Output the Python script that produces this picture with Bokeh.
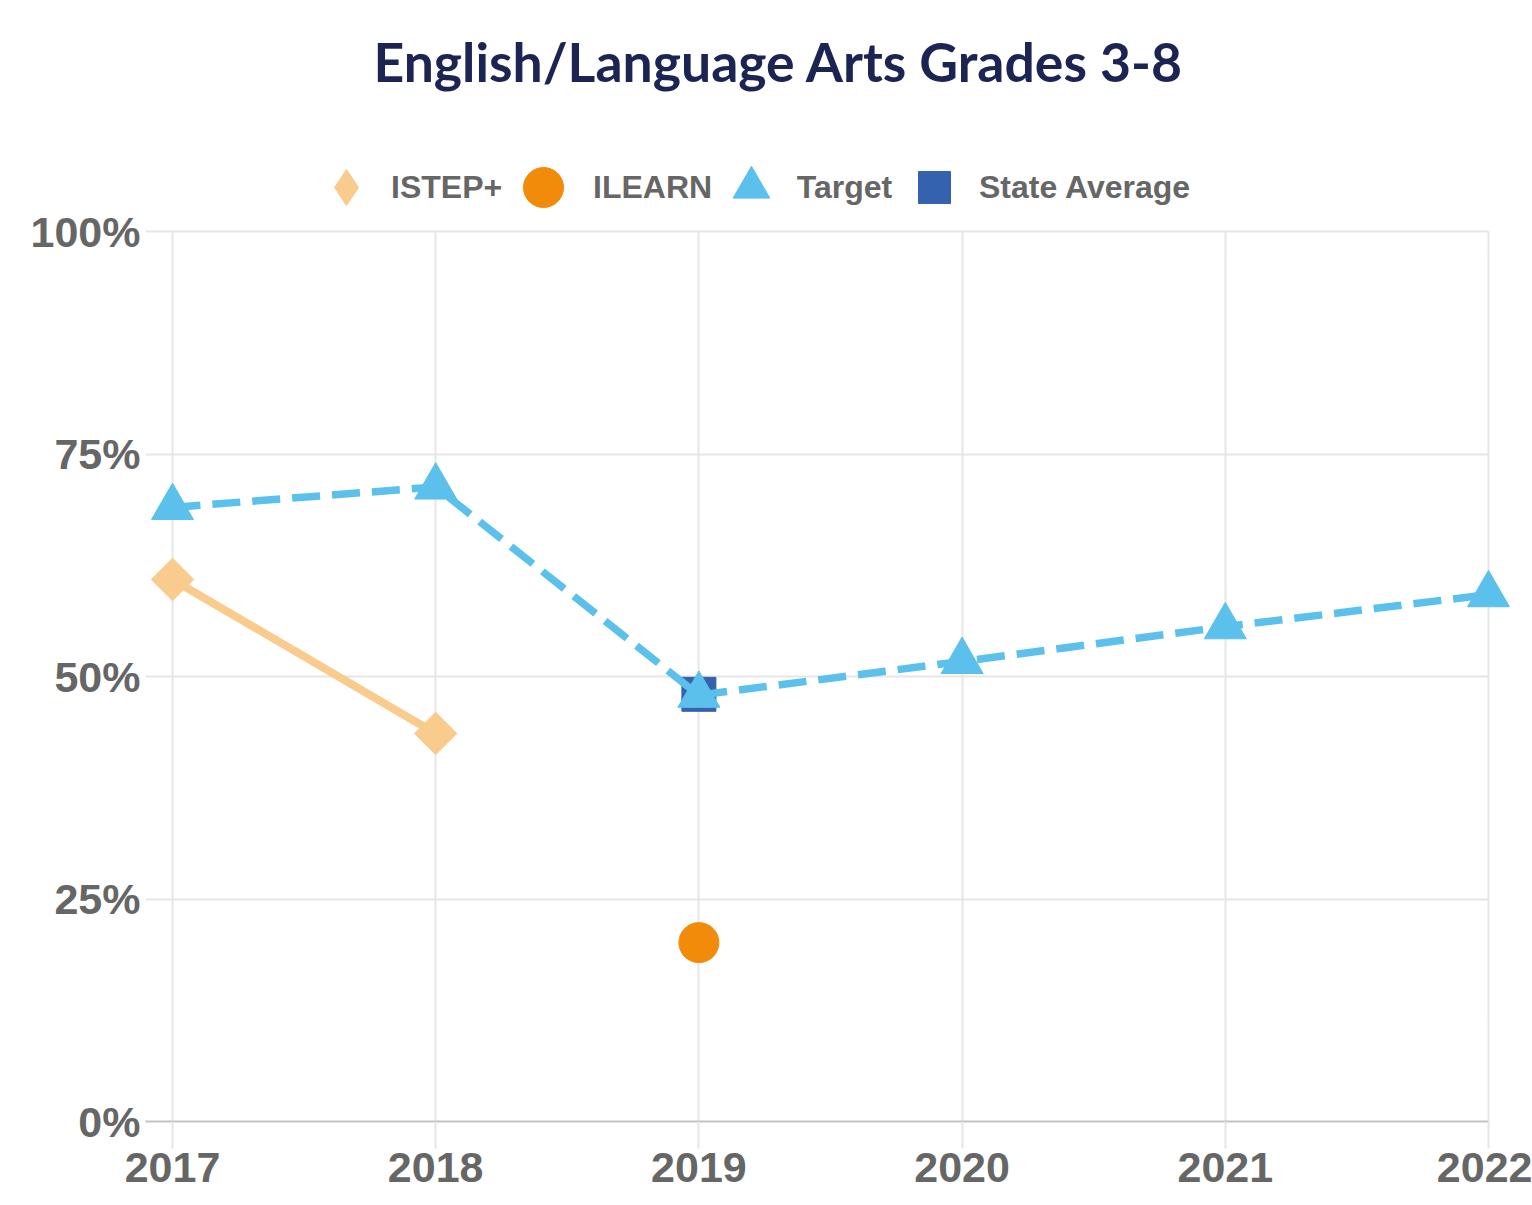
import math
from bokeh.plotting import figure
from bokeh.models import (Range1d, FixedTicker, Legend, LegendItem, Title)
from bokeh.embed import file_html
from bokeh.resources import INLINE

# ---- data ----
years = [2017, 2018, 2019, 2020, 2021, 2022]
istep_years = [2017, 2018]
istep = [60.9, 43.6]
ilearn_years = [2019]
ilearn = [20.1]
target_years = [2017, 2018, 2019, 2020, 2021, 2022]
target = [69.0, 71.3, 47.9, 51.7, 55.6, 59.2]
state_years = [2019]
state_avg = [48.0]
y_ticks = [0, 25, 50, 75, 100]
y_tick_labels = ["0%", "25%", "50%", "75%", "100%"]
x_tick_labels = ["2017", "2018", "2019", "2020", "2021", "2022"]

# colours
C_ISTEP = "#f9cb8d"
C_ILEARN = "#f28b0a"
C_TARGET = "#5bc0eb"
C_STATE = "#3462ae"
GRID = "#e6e6e6"
TXT = "#666666"

W, H = 1532, 1205
left_px = 145
top_px = 118          # frame top (legend lives inside the frame, above 100%)
y100_px = 231         # pixel row of the 100% line
bottom_px = 84
px_per_year = 263.2
x_start = years[0] - 27 / px_per_year
x_end = x_start + (W - left_px) / px_per_year
px_per_pct = (H - bottom_px - y100_px) / 100.0
y_top = 100 + (y100_px - top_px) / px_per_pct

p = figure(width=W, height=H, output_backend="svg", toolbar_location=None,
           x_range=Range1d(x_start, x_end), y_range=Range1d(0, y_top),
           min_border_left=left_px, min_border_right=0, min_border_top=top_px,
           min_border_bottom=bottom_px)
p.outline_line_color = None
p.background_fill_color = "white"
p.border_fill_color = "white"

# title
p.title = Title(text="English/Language Arts Grades 3-8", align="left", offset=228,
                text_font="Lato", text_font_style="bold", text_font_size="53.5px",
                text_color="#1b2452", standoff=52)

# axes
p.xaxis.ticker = FixedTicker(ticks=years)
p.xaxis.major_label_overrides = {y: s for y, s in zip(years, x_tick_labels)}
p.xaxis.bounds = (x_start, years[-1])
p.xaxis.axis_line_color = "#c4c4c4"
p.xaxis.axis_line_width = 2
p.xaxis.major_tick_out = 27
p.xaxis.major_tick_in = 0
p.xaxis.major_tick_line_color = GRID
p.xaxis.major_tick_line_width = 2
p.xaxis.minor_tick_line_color = None
p.xaxis.major_label_standoff = 4
p.xaxis.major_label_text_font = "Liberation Sans"
p.xaxis.major_label_text_font_style = "bold"
p.xaxis.major_label_text_font_size = "43px"
p.xaxis.major_label_text_color = TXT

p.yaxis.ticker = FixedTicker(ticks=y_ticks)
p.yaxis.major_label_overrides = {t: s for t, s in zip(y_ticks, y_tick_labels)}
p.yaxis.axis_line_color = None
p.yaxis.major_tick_line_color = None
p.yaxis.minor_tick_line_color = None
p.yaxis.major_tick_out = 0
p.yaxis.major_tick_in = 0
p.yaxis.major_label_standoff = 5
p.yaxis.major_label_text_font = "Liberation Sans"
p.yaxis.major_label_text_font_style = "bold"
p.yaxis.major_label_text_font_size = "43px"
p.yaxis.major_label_text_color = TXT

# grids
p.xgrid.grid_line_color = GRID
p.xgrid.grid_line_width = 2
p.xgrid.ticker = FixedTicker(ticks=years)
p.ygrid.ticker = FixedTicker(ticks=y_ticks[1:])
p.ygrid.grid_line_color = GRID
p.ygrid.grid_line_width = 2
try:
    p.ygrid.cross_bounds = (x_start, years[-1])
    p.xgrid.cross_bounds = (y_ticks[0], y_ticks[-1])
except Exception:
    p.ygrid.visible = False
    p.xgrid.visible = False
    p.segment(x0=[x_start] * 4, x1=[years[-1]] * 4, y0=y_ticks[1:], y1=y_ticks[1:],
              line_color=GRID, line_width=2)
    p.segment(x0=years, x1=years, y0=[0] * len(years), y1=[100] * len(years),
              line_color=GRID, line_width=2)

# series
r_istep_l = p.line(istep_years, istep, line_color=C_ISTEP, line_width=8)
# diamond key glyph for the legend (sits fully under the rotated-square markers)
r_istep_key = p.scatter(istep_years, istep, marker="diamond", size=28,
                        fill_color=C_ISTEP, line_color=C_ISTEP)
r_istep = p.scatter(istep_years, istep, marker="square", angle=45, angle_units="deg",
                    size=30, fill_color=C_ISTEP, line_color=C_ISTEP)
r_ilearn = p.scatter(ilearn_years, ilearn, marker="circle", size=40,
                     fill_color=C_ILEARN, line_color=C_ILEARN)
r_state = p.scatter(state_years, state_avg, marker="square", size=34,
                    fill_color=C_STATE, line_color=C_STATE)
r_target_l = p.line(target_years, target, line_color=C_TARGET, line_width=7.5,
                    line_dash="28 12")
r_target = p.scatter(target_years, target, marker="triangle", size=42,
                     fill_color=C_TARGET, line_color=C_TARGET)

# legend: one entry per key so each marker keeps its own size
legend_y = 187
entries = [
    # label, renderer, key centre x, key size, label start x
    ("ISTEP+", r_istep_key, 346, 36, 390),
    ("ILEARN", r_ilearn, 543, 40, 593),
    ("Target", r_target, 751, 37, 796),
    ("State Average", r_state, 934, 32, 979),
]
for label, rend, cx, ksize, lx in entries:
    g = ksize / 0.4
    lg = Legend(items=[LegendItem(label=label, renderers=[rend])],
                orientation="horizontal",
                location=(cx - g / 2 - left_px, (H - bottom_px) - (legend_y + g / 2)),
                glyph_width=int(round(g)), glyph_height=int(round(g)),
                label_standoff=max(0, int(round(lx - (cx + g / 2)))), spacing=0,
                padding=0, margin=0, border_line_color=None, background_fill_alpha=0,
                label_text_font="Liberation Sans", label_text_font_style="bold",
                label_text_font_size="32px", label_text_color=TXT)
    p.add_layout(lg, "center")

open("out.html", "w").write(file_html(p, INLINE))
